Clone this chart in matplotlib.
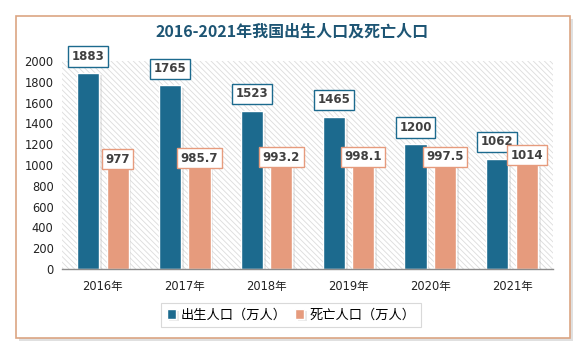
import matplotlib
matplotlib.use("Agg")
import matplotlib.pyplot as plt
import matplotlib.patheffects as pe
from matplotlib.patches import Rectangle
import numpy as np

plt.rcParams['font.family'] = ['DejaVu Sans', 'Noto Sans CJK SC']
plt.rcParams['hatch.linewidth'] = 0.6

years = ['2016年', '2017年', '2018年', '2019年', '2020年', '2021年']
births = [1883, 1765, 1523, 1465, 1200, 1062]
deaths = [977, 985.7, 993.2, 998.1, 997.5, 1014]
birth_labels = ['1883', '1765', '1523', '1465', '1200', '1062']
death_labels = ['977', '985.7', '993.2', '998.1', '997.5', '1014']
series_names = ['出生人口（万人）', '死亡人口（万人）']
title = '2016-2021年我国出生人口及死亡人口'

c_birth = '#1c6a8e'
c_death = '#e69b7d'

fig = plt.figure(figsize=(5.83, 3.49), dpi=100)
fig.patch.set_facecolor('white')

# outer frame with shadow
W, H = 583, 349
frame = Rectangle((16 / W, (H - 338) / H), (570 - 16) / W, (338 - 16) / H,
                  transform=fig.transFigure, facecolor='white', edgecolor='#dba583',
                  linewidth=1.2, zorder=-5,
                  path_effects=[pe.SimplePatchShadow(offset=(2, -2), shadow_rgbFace='#999999', alpha=0.3), pe.Normal()])
fig.patches.append(frame)

ax = fig.add_axes([62 / W, 80 / H, (553 - 62) / W, (269 - 61) / H])
ax.set_zorder(1)
ax.set_facecolor('white')
ax.add_patch(Rectangle((0, 0), 1, 1, transform=ax.transAxes, facecolor='white',
                       edgecolor='#dcdcdc', linewidth=0, hatch='\\\\\\\\\\\\', zorder=0))

x = np.arange(len(years))
w = 0.27
gap = 0.09
shadow = [pe.SimplePatchShadow(offset=(2, -1.5), shadow_rgbFace='#aaaaaa', alpha=0.25), pe.Normal()]
b1 = ax.bar(x - (w + gap) / 2, births, w, color=c_birth, edgecolor='white', linewidth=1.0,
            label=series_names[0], zorder=2, path_effects=shadow)
b2 = ax.bar(x + (w + gap) / 2, deaths, w, color=c_death, edgecolor='white', linewidth=1.0,
            label=series_names[1], zorder=2, path_effects=shadow)

for i in range(len(years)):
    ax.annotate(birth_labels[i], (x[i] - (w + gap) / 2, births[i]), xytext=(0, 12),
                textcoords='offset points', ha='center', va='center', fontsize=8.5,
                color='#404040', fontweight='bold', zorder=5,
                bbox=dict(boxstyle='square,pad=0.3', facecolor='white', edgecolor=c_birth, linewidth=1.0))
for i in range(len(years)):
    ax.annotate(death_labels[i], (x[i] + (w + gap) / 2, deaths[i]), xytext=(0, 6),
                textcoords='offset points', ha='center', va='center', fontsize=8.5,
                color='#404040', fontweight='bold', zorder=6,
                bbox=dict(boxstyle='square,pad=0.3', facecolor='white', edgecolor=c_death, linewidth=1.0))

ax.set_xlim(-0.5, len(years) - 0.5)
ax.set_ylim(0, 2000)
ax.set_yticks(range(0, 2001, 200))
ax.set_xticks(x)
ax.set_xticklabels(years)
ax.tick_params(axis='both', length=0, labelsize=8.3, colors='#222222')
ax.tick_params(axis='x', pad=8)
ax.tick_params(axis='y', pad=6)
for s in ['top', 'right', 'left']:
    ax.spines[s].set_visible(False)
ax.spines['bottom'].set_color('#8c8c8c')
ax.spines['bottom'].set_linewidth(1.0)
ax.spines['bottom'].set_zorder(3)

fig.text(292 / W, 1 - 32 / H, title, ha='center', va='center', fontsize=11.5,
         fontweight='bold', color='#1d5574', family=['Noto Sans CJK SC', 'DejaVu Sans'])

leg = fig.legend(handles=[b1, b2], labels=series_names, loc='center',
                 bbox_to_anchor=(291 / W, 1 - 315 / H), ncol=2,
                 prop={'family': ['Noto Sans CJK SC', 'DejaVu Sans'], 'size': 9.5},
                 frameon=True, fancybox=False, edgecolor='#d0d0d0', handlelength=0.7,
                 handleheight=0.7, handletextpad=0.4, columnspacing=0.6, borderpad=0.4)
leg.get_frame().set_linewidth(0.8)

fig.savefig('out.png', dpi=100)
